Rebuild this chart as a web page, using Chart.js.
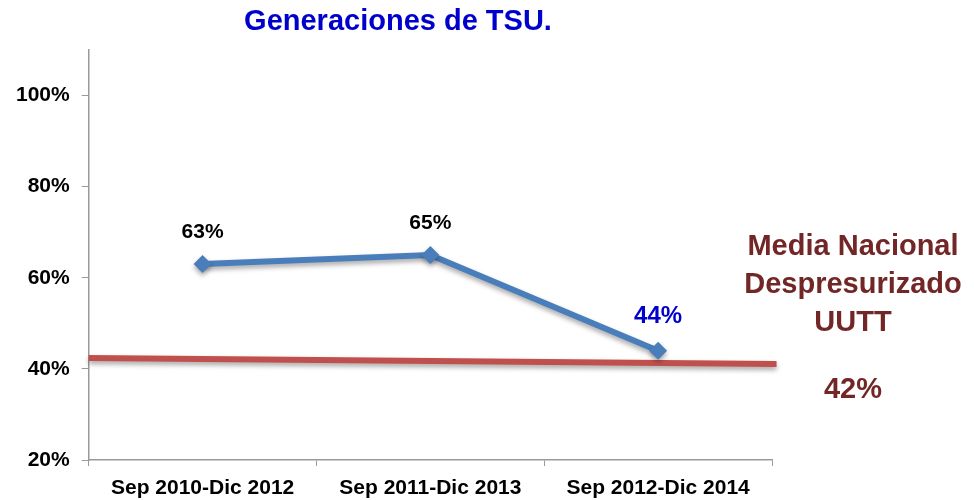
<!DOCTYPE html>
<html>
<head>
<meta charset="utf-8">
<script src="https://cdn.jsdelivr.net/npm/chart.js@4.4.1/dist/chart.umd.min.js"></script>
<style>
  html, body { margin: 0; padding: 0; background: #fff; }
  #wrap { width: 974px; height: 500px; }
</style>
</head>
<body>
<div id="wrap"><canvas id="chart" width="974" height="500"></canvas></div>
<script>
// chart data
const categories = ['Sep 2010-Dic 2012', 'Sep 2011-Dic 2013', 'Sep 2012-Dic 2014'];
const tsuValues = [63, 65, 44];
const pointLabels = ['63%', '65%', '44%'];
const mediaLine = [{ x: 0, y: 42.4 }, { x: 3.02, y: 41.1 }];
const mediaText = ['Media Nacional', 'Despresurizado', 'UUTT'];
const mediaValue = '42%';
const chartTitle = 'Generaciones de TSU.';

const FONT = '"Liberation Sans", Arial, sans-serif';

// custom drawing: title, point labels, right-hand annotation
const extras = {
  id: 'extras',
  beforeDatasetsDraw(chart) {
    const ctx = chart.ctx;
    ctx.save();
    ctx.shadowColor = 'rgba(0,0,0,0.35)';
    ctx.shadowBlur = 5;
    ctx.shadowOffsetY = 3;
  },
  afterDatasetsDraw(chart) {
    const ctx = chart.ctx;
    ctx.restore();

    ctx.save();
    ctx.textAlign = 'center';
    ctx.textBaseline = 'middle';

    // title
    ctx.fillStyle = '#0000cc';
    ctx.font = 'bold 29px ' + FONT;
    ctx.fillText(chartTitle, 398, 22);

    // point labels
    const meta = chart.getDatasetMeta(0);
    meta.data.forEach((pt, i) => {
      if (i === 2) {
        ctx.fillStyle = '#0000cc';
        ctx.font = 'bold 24px ' + FONT;
        ctx.fillText(pointLabels[i], pt.x, pt.y - 34);
      } else {
        ctx.fillStyle = '#000';
        ctx.font = 'bold 21px ' + FONT;
        ctx.fillText(pointLabels[i], pt.x, pt.y - 32);
      }
    });

    // annotation
    ctx.fillStyle = '#722626';
    ctx.font = 'bold 29px ' + FONT;
    mediaText.forEach((t, i) => ctx.fillText(t, 853, 247 + i * 38));
    ctx.fillText(mediaValue, 853, 390);
    ctx.restore();
  }
};

new Chart(document.getElementById('chart'), {
  type: 'line',
  data: {
    labels: categories,
    datasets: [
      {
        label: 'TSU',
        data: tsuValues,
        borderColor: '#4a7ebb',
        backgroundColor: '#4a7ebb',
        borderWidth: 6,
        pointStyle: 'rectRot',
        pointRadius: 9,
        pointHoverRadius: 9,
        pointBorderWidth: 0,
        tension: 0,
        order: 1
      },
      {
        label: 'Media',
        data: mediaLine,
        xAxisID: 'xLin',
        borderColor: '#c0504d',
        borderWidth: 6,
        pointRadius: 0,
        clip: false,
        order: 2
      }
    ]
  },
  options: {
    responsive: false,
    animation: false,
    events: [],
    layout: { padding: { top: 50, right: 202, left: 4, bottom: 0 } },
    plugins: {
      legend: { display: false },
      tooltip: { enabled: false },
      title: { display: false }
    },
    scales: {
      x: {
        type: 'category',
        offset: true,
        afterFit(scale) { scale.height = 40; },
        grid: {
          offset: true,
          drawOnChartArea: false,
          tickLength: 6,
          color: '#999'
        },
        border: { color: '#999', width: 1.5 },
        ticks: {
          color: '#000',
          padding: 10,
          maxRotation: 0,
          font: { family: FONT, size: 21, weight: 'bold' }
        }
      },
      xLin: {
        type: 'linear',
        display: false,
        min: 0,
        max: 3
      },
      y: {
        min: 20,
        max: 110,
        afterBuildTicks(axis) {
          axis.ticks = [20, 40, 60, 80, 100].map(v => ({ value: v }));
        },
        grid: {
          drawOnChartArea: false,
          tickLength: 7,
          color: '#999'
        },
        border: { color: '#999', width: 1.5 },
        ticks: {
          color: '#000',
          padding: 12,
          callback: v => v + '%',
          font: { family: FONT, size: 21, weight: 'bold' }
        }
      }
    }
  },
  plugins: [extras]
});
</script>
</body>
</html>
